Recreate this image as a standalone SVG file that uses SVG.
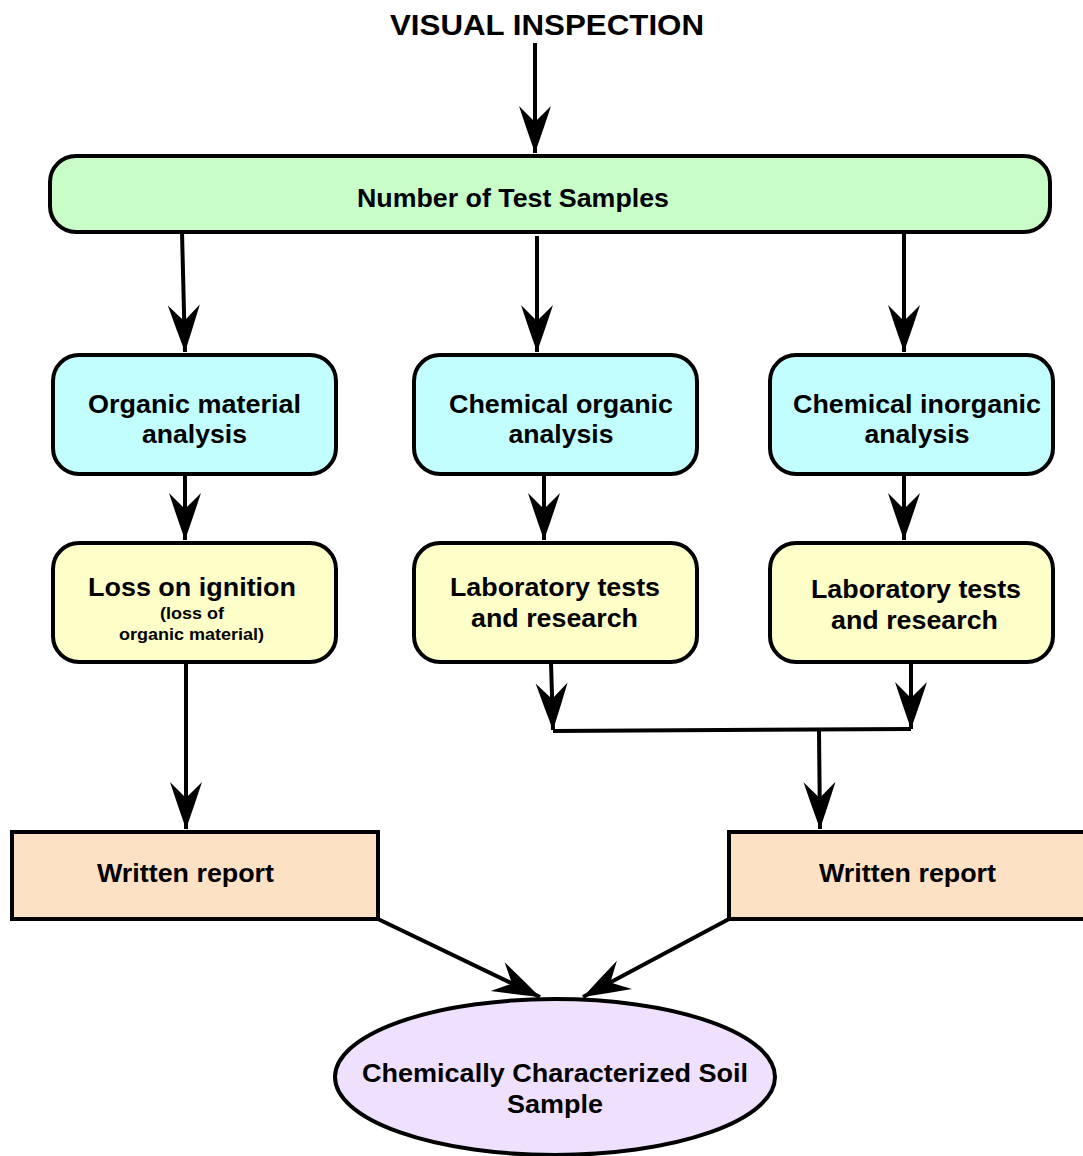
<svg xmlns="http://www.w3.org/2000/svg" width="1083" height="1156" viewBox="0 0 1083 1156">
<style>
.n{stroke:#000;stroke-width:4}
.t{font-family:"Liberation Sans",Arial,sans-serif;font-weight:bold;fill:#000;text-anchor:middle}
.c{fill:none;stroke:#000;stroke-width:4;marker-end:url(#ah)}
.l{fill:none;stroke:#000;stroke-width:4}
</style>
<defs>
<marker id="ah" markerUnits="userSpaceOnUse" viewBox="-50 -18 52 36" markerWidth="52" markerHeight="36" refX="0" refY="0" orient="auto">
<path d="M0,0 Q-24,-8.5 -47,-16 Q-38,-7 -31,0 Q-38,7 -47,16 Q-24,8.5 0,0 Z" fill="#000"/>
</marker>
</defs>
<rect width="1083" height="1156" fill="#fff"/>
<g id="title"><text class="t" x="547" y="35" font-size="30" textLength="314" lengthAdjust="spacingAndGlyphs">VISUAL INSPECTION</text></g>
<g id="connectors">
<path class="c" d="M535,43 L535,153"/>
<path class="c" d="M182,232 L185,352"/>
<path class="c" d="M537,236 L537,352"/>
<path class="c" d="M904,234 L904,352"/>
<path class="c" d="M185,474 L185,540"/>
<path class="c" d="M544,476 L544,540"/>
<path class="c" d="M904,476 L904,540"/>
<path class="c" d="M186,662 L186,829"/>
<path class="c" d="M551,662 L553,730"/>
<path class="c" d="M911,662 L911,729"/>
<path class="l" d="M553,731 L911,729"/>
<path class="c" d="M819,731 L820,829"/>
<path class="c" d="M378,919 L540,997"/>
<path class="c" d="M729,919 L583,997"/>
</g>
<g id="samples"><rect class="n" x="50" y="156" width="1000" height="76" rx="26" fill="#c8fdc8"/><text class="t" x="513" y="207" font-size="25" textLength="312" lengthAdjust="spacingAndGlyphs">Number of Test Samples</text></g>
<g id="organic"><rect class="n" x="53" y="355" width="283" height="119" rx="26" fill="#c2fefe"/><text class="t" x="194.5" y="413" font-size="25" textLength="213" lengthAdjust="spacingAndGlyphs">Organic material</text><text class="t" x="194.5" y="443" font-size="25" textLength="105" lengthAdjust="spacingAndGlyphs">analysis</text></g>
<g id="chemorg"><rect class="n" x="414" y="355" width="283" height="119" rx="26" fill="#c2fefe"/><text class="t" x="561" y="413" font-size="25" textLength="224" lengthAdjust="spacingAndGlyphs">Chemical organic</text><text class="t" x="561" y="443" font-size="25" textLength="105" lengthAdjust="spacingAndGlyphs">analysis</text></g>
<g id="cheminorg"><rect class="n" x="770" y="355" width="283" height="119" rx="26" fill="#c2fefe"/><text class="t" x="917" y="413" font-size="25" textLength="248" lengthAdjust="spacingAndGlyphs">Chemical inorganic</text><text class="t" x="917" y="443" font-size="25" textLength="105" lengthAdjust="spacingAndGlyphs">analysis</text></g>
<g id="loi"><rect class="n" x="53" y="543" width="283" height="119" rx="26" fill="#fefec8"/><text class="t" x="192" y="596" font-size="25" textLength="208" lengthAdjust="spacingAndGlyphs">Loss on ignition</text><text class="t" x="192" y="619" font-size="16" textLength="64" lengthAdjust="spacingAndGlyphs">(loss of</text><text class="t" x="191.5" y="640" font-size="16" textLength="145" lengthAdjust="spacingAndGlyphs">organic material)</text></g>
<g id="lab1"><rect class="n" x="414" y="543" width="283" height="119" rx="26" fill="#fefec8"/><text class="t" x="555" y="596" font-size="25" textLength="210" lengthAdjust="spacingAndGlyphs">Laboratory tests</text><text class="t" x="554.5" y="627" font-size="25" textLength="167" lengthAdjust="spacingAndGlyphs">and research</text></g>
<g id="lab2"><rect class="n" x="770" y="543" width="283" height="119" rx="26" fill="#fefec8"/><text class="t" x="916" y="598" font-size="25" textLength="210" lengthAdjust="spacingAndGlyphs">Laboratory tests</text><text class="t" x="914.5" y="629" font-size="25" textLength="167" lengthAdjust="spacingAndGlyphs">and research</text></g>
<g id="report1"><rect class="n" x="12" y="832" width="366" height="87" fill="#fde1c4"/><text class="t" x="185.5" y="882" font-size="25" textLength="177" lengthAdjust="spacingAndGlyphs">Written report</text></g>
<g id="report2"><rect class="n" x="729" y="832" width="366" height="87" fill="#fde1c4"/><text class="t" x="907.5" y="882" font-size="25" textLength="177" lengthAdjust="spacingAndGlyphs">Written report</text></g>
<g id="soil"><ellipse class="n" cx="555" cy="1077" rx="220" ry="78" fill="#efe1fd"/><text class="t" x="555" y="1082" font-size="25" textLength="386" lengthAdjust="spacingAndGlyphs">Chemically Characterized Soil</text><text class="t" x="555" y="1113" font-size="25" textLength="96" lengthAdjust="spacingAndGlyphs">Sample</text></g>
</svg>
